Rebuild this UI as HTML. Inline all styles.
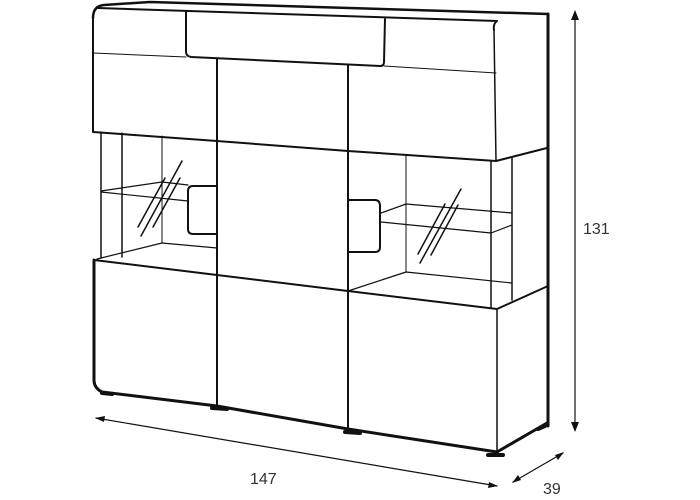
<!DOCTYPE html>
<html><head><style>body{margin:0;background:#fff}svg{display:block}text{font-family:"Liberation Sans",sans-serif;font-size:16px;fill:#333}</style></head>
<body>
<svg width="700" height="500" viewBox="0 0 700 500" xmlns="http://www.w3.org/2000/svg" fill="none" stroke="#111" stroke-linecap="round" stroke-linejoin="round">
<!-- top -->
<path d="M93 18 Q93 6 104 5 L150 2 L548 14" stroke-width="2.5"/>
<path d="M98 8 L497 21 Q493 24 494 30" stroke-width="2"/>
<path d="M548 14 L548 426" stroke-width="3"/>
<!-- upper box -->
<path d="M93 18 L93 132 L217 141 L348 151 L496 161 L547 148" stroke-width="2"/>
<path d="M494 30 L496 161" stroke-width="1.5"/>
<path d="M93 53 L186 57" stroke-width="1"/>
<path d="M384 66 L496 73" stroke-width="1"/>
<path d="M186 11 L186 52 Q186 56 191 57 L380 66 Q384 66 384 62 L385 19" stroke-width="2"/>
<!-- dividers -->
<path d="M217 59 L217 408" stroke-width="2"/>
<path d="M348 65 L348 430" stroke-width="2"/>
<path d="M217 141 L348 151" stroke-width="1"/>
<path d="M217 275 L348 291" stroke-width="1"/>
<!-- left open section -->
<path d="M101 132 L101 258 M122 133 L122 257" stroke-width="1.5"/>
<path d="M162 136 L162 243" stroke-width="1"/>
<path d="M101 191 L162 182 L188 185 M101 192 L188 201" stroke-width="1.2"/>
<path d="M97 259 L162 243 L217 248" stroke-width="1.2"/>
<path d="M217 186 L193 186 Q188 186 188 191 L188 229 Q188 234 193 234 L217 234" stroke-width="2"/>
<path d="M138 227 L165 178 M141 236 L182 161 M153 227 L180 178" stroke-width="1.5"/>
<!-- right open section -->
<path d="M406 155 L406 272" stroke-width="1"/>
<path d="M491 161 L491 308 M512 158 L512 300" stroke-width="1.5"/>
<path d="M381 213 L406 204 L512 213 M381 222 L491 233 L512 225" stroke-width="1.2"/>
<path d="M348 291 L406 272 L512 283" stroke-width="1.2"/>
<path d="M348 200 L375 200 Q380 200 380 206 L380 247 Q380 252 375 252 L348 252" stroke-width="2"/>
<path d="M418 254 L445 204 M420 263 L461 189 M431 255 L458 205" stroke-width="1.5"/>
<!-- lower section -->
<path d="M94 260 L217 275 L348 291 L497 309 L548 286" stroke-width="2"/>
<path d="M94 260 L94 380 Q94 388 102 392 L217 406 L348 429 L497 452 L547 423" stroke-width="3"/>
<path d="M497 309 L497 452" stroke-width="1.5"/>
<!-- feet -->
<path d="M102 393 L112 394 M212 408 L227 409 M345 432 L360 433 M488 455 L503 455 M538 429 L545 426" stroke-width="4"/>
<!-- dimensions -->
<path d="M575 12 L575 430" stroke-width="1.2"/>
<path d="M571 20 L575 10 L579 20 Z M571 422 L575 432 L579 422 Z" fill="#111" stroke="none"/>
<path d="M96 418 L497 486" stroke-width="1.2"/>
<path d="M95 418 L105 416 L104 422 Z M498 486 L488 488 L489 482 Z" fill="#111" stroke="none"/>
<path d="M513 482 L563 453" stroke-width="1.2"/>
<path d="M512 483 L518 475 L521 480 Z M564 452 L558 460 L555 455 Z" fill="#111" stroke="none"/>
<text x="583" y="234" stroke="none">131</text>
<text x="250" y="484" stroke="none">147</text>
<text x="543" y="494" stroke="none">39</text>
</svg>
</body></html>
